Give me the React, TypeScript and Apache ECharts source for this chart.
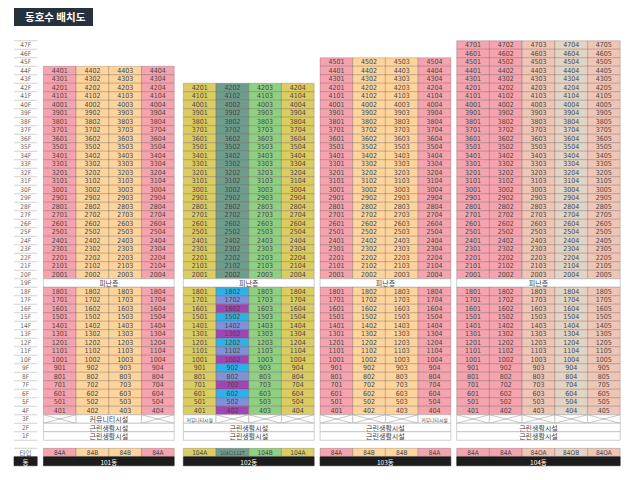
import React, { useEffect, useRef } from 'react';
import * as echarts from 'echarts';

// ---------- data ----------
const title = '동호수 배치도';
const floorLabels = [
  '47F', '46F', '45F', '44F', '43F', '42F', '41F', '40F', '39F', '38F',
  '37F', '36F', '35F', '34F', '33F', '32F', '31F', '30F', '29F', '28F',
  '27F', '26F', '25F', '24F', '23F', '22F', '21F', '20F', '19F', '18F',
  '17F', '16F', '15F', '14F', '13F', '12F', '11F', '10F', '9F', '8F',
  '7F', '6F', '5F', '4F', '3F', '2F', '1F',
];
const floorNumbers = [
  47, 46, 45, 44, 43, 42, 41, 40, 39, 38, 37, 36, 35, 34, 33, 32, 31, 30, 29, 28,
  27, 26, 25, 24, 23, 22, 21, 20, 19, 18, 17, 16, 15, 14, 13, 12, 11, 10, 9, 8,
  7, 6, 5, 4, 3, 2, 1,
];
const buildingNames = ['101동', '102동', '103동', '104동'];
const buildingTopFloors = [44, 42, 45, 47];
const unitTypes = [
  ['84A', '84B', '84B', '84A'],
  ['104A', '104C/112T', '104B', '104A'],
  ['84A', '84B', '84B', '84A'],
  ['84A', '84A', '84OA', '84OB', '84OA'],
];
const refugeFloor = 19;
const refugeLabel = '피난층';
const commercialFloors = [2, 1];
const commercialLabel = '근린생활시설';
const communityLabel = '커뮤니티시설';
const thirdFloorSegments: [string, number][][] = [
  [['x', 1], [communityLabel, 2], ['x', 1]],
  [[communityLabel, 1], ['x', 1], ['x', 1], ['x', 1]],
  [['x', 1], ['x', 1], ['x', 1], [communityLabel, 1]],
  [['x', 1], ['x', 1], ['x', 1], ['x', 1], ['x', 1]],
];
// building 102, column 2, floors 18F..4F
const lowFloors102 = [18, 17, 16, 15, 14, 13, 12, 11, 10, 9, 8, 7, 6, 5, 4];
const lowColors102 = [
  '#2fb1e8', '#7f91d8', '#a045b4', '#2fb1e8', '#7f91d8', '#a045b4', '#2fb1e8', '#7f91d8',
  '#a045b4', '#2fb1e8', '#7f91d8', '#a045b4', '#2fb1e8', '#7f91d8', '#a045b4',
];
const typeLabel = '타입';
const dongLabel = '동';

const typeColors: Record<string, string> = {
  '84A': '#f5a3ae',
  '84B': '#fdd49c',
  '104A': '#dccd62',
  '104C/112T': '#6f9d8d',
  '104B': '#90d082',
  '84OA': '#efc5b6',
  '84OB': '#e3d5c5',
};

// ---------- layout (axis units) ----------
const buildingOffsets = [0, 4.28, 8.46, 12.64];
const labelCol: [number, number] = [-0.9, -0.19];
const typeRow: [number, number] = [-1.4, -0.45];
const dongRow: [number, number] = [-2.5, -1.45];

const NUM_FONT = "'Liberation Sans Narrow', 'DejaVu Sans Condensed', 'Noto Sans', sans-serif";
const KR_FONT = "'Noto Sans CJK KR', sans-serif";

type Cell = {
  x0: number; x1: number; y0: number; y1: number;
  kind: 'cell' | 'cross' | 'floor' | 'plain';
  text?: string; fill?: string; stroke?: string; color?: string;
  fontSize?: number; font?: string; first?: boolean;
};

function buildCells(): Cell[] {
  const cells: Cell[] = [];
  const cellStroke = 'rgba(70,50,50,0.38)';
  const whiteStroke = '#b0b0b0';
  // floor labels
  floorNumbers.forEach((f, i) => {
    cells.push({
      x0: labelCol[0], x1: labelCol[1], y0: f - 0.5, y1: f + 0.5,
      kind: 'floor', text: floorLabels[i], color: '#666', fontSize: 6.5, font: NUM_FONT, first: i === 0,
    });
  });
  cells.push({
    x0: labelCol[0], x1: labelCol[1], y0: typeRow[0], y1: typeRow[1],
    kind: 'floor', text: typeLabel, color: '#666', fontSize: 6.5, font: KR_FONT, first: true,
  });
  cells.push({
    x0: labelCol[0], x1: labelCol[1], y0: dongRow[0], y1: dongRow[1],
    kind: 'plain', text: dongLabel, fill: '#1c1c1c', stroke: '#1c1c1c', color: '#fff', fontSize: 6.5, font: KR_FONT,
  });

  buildingNames.forEach((name, b) => {
    const off = buildingOffsets[b];
    const types = unitTypes[b];
    const n = types.length;
    for (let f = buildingTopFloors[b]; f >= 1; f--) {
      const y0 = f - 0.5, y1 = f + 0.5;
      if (f === refugeFloor) {
        cells.push({ x0: off, x1: off + n, y0, y1, kind: 'plain', text: refugeLabel, fill: '#fff', stroke: whiteStroke, color: '#444', fontSize: 7, font: KR_FONT });
      } else if (commercialFloors.includes(f)) {
        cells.push({ x0: off, x1: off + n, y0, y1, kind: 'plain', text: commercialLabel, fill: '#fff', stroke: whiteStroke, color: '#444', fontSize: 7, font: KR_FONT });
      } else if (f === 3) {
        let cx = off;
        thirdFloorSegments[b].forEach(([label, span]) => {
          if (label === 'x') {
            cells.push({ x0: cx, x1: cx + span, y0, y1, kind: 'cross', fill: '#fff', stroke: whiteStroke });
          } else {
            cells.push({ x0: cx, x1: cx + span, y0, y1, kind: 'plain', text: label, fill: '#fff', stroke: whiteStroke, color: '#444', fontSize: span > 1 ? 7 : 4.8, font: KR_FONT });
          }
          cx += span;
        });
      } else {
        types.forEach((t, c) => {
          let fill = typeColors[t];
          if (b === 1 && c === 1) {
            const k = lowFloors102.indexOf(f);
            if (k >= 0) fill = lowColors102[k];
          }
          cells.push({ x0: off + c, x1: off + c + 1, y0, y1, kind: 'cell', text: `${f}0${c + 1}`, fill, stroke: cellStroke, color: '#454545', fontSize: 7, font: NUM_FONT });
        });
      }
    }
    // type row
    types.forEach((t, c) => {
      cells.push({ x0: off + c, x1: off + c + 1, y0: typeRow[0], y1: typeRow[1], kind: 'cell', text: t, fill: typeColors[t], stroke: cellStroke, color: '#454545', fontSize: t.length > 5 ? 5 : 6.5, font: NUM_FONT });
    });
    // dong row
    cells.push({ x0: off, x1: off + n, y0: dongRow[0], y1: dongRow[1], kind: 'plain', text: name, fill: '#1c1c1c', stroke: '#1c1c1c', color: '#fff', fontSize: 6.5, font: KR_FONT });
  });
  return cells;
}

export default function App() {
  const ref = useRef<HTMLDivElement>(null);
  useEffect(() => {
    const chart = echarts.init(ref.current!, null, { renderer: 'svg' });
    const cells = buildCells();
    const option: any = {
      animation: false,
      backgroundColor: '#ffffff',
      grid: { left: 14, right: 19.8, top: 40.75, bottom: 14.25, containLabel: false },
      xAxis: { type: 'value', min: -0.9, max: 17.64, show: false },
      yAxis: { type: 'value', min: -2.5, max: 47.5, show: false },
      graphic: [
        {
          type: 'rect', left: 14, top: 8, shape: { width: 79, height: 18 },
          style: { fill: '#25313c' },
        },
        {
          type: 'text', left: 25, top: 11,
          style: { text: title, fill: '#fff', fontSize: 10.5, fontWeight: 'bold', fontFamily: KR_FONT },
        },
      ],
      series: [
        {
          type: 'custom',
          coordinateSystem: 'cartesian2d',
          clip: false,
          silent: true,
          encode: { x: [0, 1], y: [2, 3] },
          data: cells.map((c) => [c.x0, c.x1, c.y0, c.y1]),
          renderItem: (params: any, api: any) => {
            const c = cells[params.dataIndex];
            const tl = api.coord([api.value(0), api.value(3)]);
            const br = api.coord([api.value(1), api.value(2)]);
            const x = tl[0], y = tl[1], w = br[0] - tl[0], h = br[1] - tl[1];
            const children: any[] = [];
            if (c.kind === 'floor') {
              if (c.first) {
                children.push({ type: 'line', shape: { x1: x, y1: y, x2: x + w, y2: y }, style: { stroke: '#c8c8c8', lineWidth: 0.8 } });
              }
              children.push({ type: 'line', shape: { x1: x, y1: y + h, x2: x + w, y2: y + h }, style: { stroke: '#c8c8c8', lineWidth: 0.8 } });
            } else {
              children.push({ type: 'rect', shape: { x, y, width: w, height: h }, style: { fill: c.fill, stroke: c.stroke, lineWidth: 0.6 } });
              if (c.kind === 'cross') {
                children.push({ type: 'line', shape: { x1: x, y1: y, x2: x + w, y2: y + h }, style: { stroke: '#a0a0a0', lineWidth: 0.6 } });
                children.push({ type: 'line', shape: { x1: x, y1: y + h, x2: x + w, y2: y }, style: { stroke: '#a0a0a0', lineWidth: 0.6 } });
              }
            }
            if (c.text) {
              children.push({
                type: 'text',
                style: {
                  text: c.text, x: x + w / 2, y: y + h / 2 + 0.3, align: 'center', verticalAlign: 'middle',
                  fill: c.color, fontSize: c.fontSize, fontFamily: c.font,
                },
              });
            }
            return { type: 'group', children };
          },
        },
      ],
    };
    chart.setOption(option);
    return () => chart.dispose();
  }, []);
  return <div ref={ref} style={{ width: 640, height: 480, position: 'fixed', left: 0, top: 0 }} />;
}
